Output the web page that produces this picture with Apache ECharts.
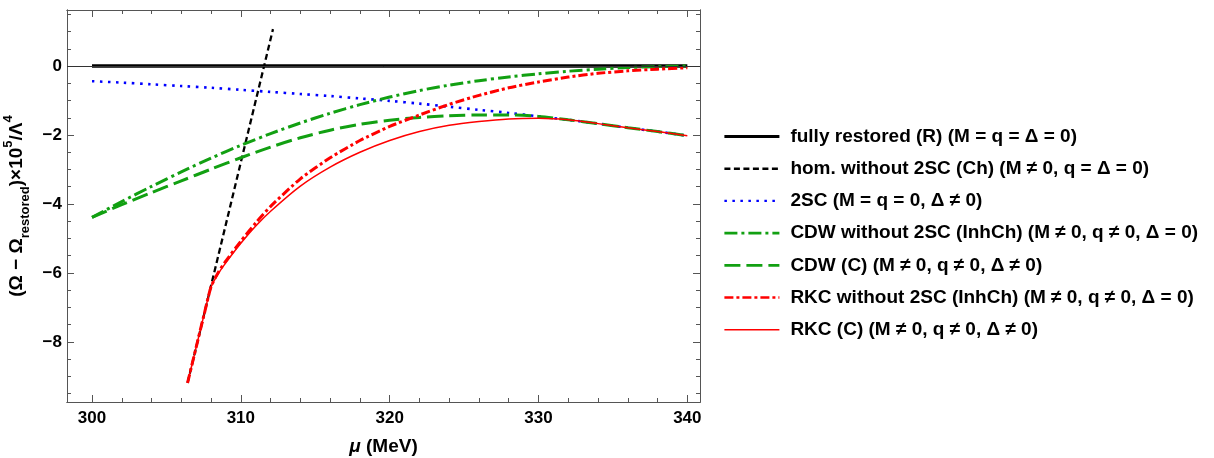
<!DOCTYPE html>
<html>
<head>
<meta charset="utf-8">
<script src="https://cdn.jsdelivr.net/npm/echarts@6/dist/echarts.min.js"></script>
<style>
  html, body { margin: 0; padding: 0; background: #fff; }
</style>
</head>
<body>
<div id="chart" style="width: 1214px;height:458px;"></div>

<script>
// mu grids (MeV)
var muGrid = [300, 302, 304, 306, 308, 310, 312, 314, 316, 318, 320,
              322, 324, 326, 328, 330, 332, 334, 336, 338, 340];
var muRed = [306.42, 307, 307.5, 308, 308.5, 309, 310, 311, 312, 314, 316, 318, 320,
             322, 324, 326, 328, 330, 332, 334, 336, 338, 340];
var muHom = [306.42, 312.16];
var muRestored = [300, 340];

// (Omega - Omega_restored) x 10^5 / Lambda^4
var restoredVals = [0, 0];
var homVals = [-9.19, 1.07];
var twoSCVals = [-0.44, -0.48, -0.53, -0.58, -0.63, -0.69, -0.75, -0.81, -0.87, -0.94, -1.01,
                 -1.09, -1.18, -1.27, -1.36, -1.46, -1.56, -1.67, -1.79, -1.90, -2.02];
var cdwNo2SCVals = [-4.39, -3.93, -3.49, -3.07, -2.67, -2.30, -1.96, -1.65, -1.37, -1.12, -0.90,
                    -0.71, -0.555, -0.425, -0.315, -0.225, -0.15, -0.09, -0.045, -0.015, 0];
var cdwVals = [-4.39, -4.02, -3.67, -3.33, -2.99, -2.66, -2.35, -2.08, -1.86, -1.69, -1.57,
               -1.49, -1.44, -1.42, -1.42, -1.46, -1.56, -1.67, -1.79, -1.90, -2.02];
var rkcNo2SCVals = [-9.19, -8.15, -7.26, -6.40, -5.97, -5.65, -5.08, -4.55, -4.07, -3.27, -2.66, -2.16, -1.75,
                    -1.42, -1.11, -0.85, -0.63, -0.46, -0.32, -0.21, -0.14, -0.09, -0.05];
var rkcVals = [-9.19, -8.15, -7.26, -6.40, -6.01, -5.70, -5.14, -4.64, -4.21, -3.48, -2.93, -2.50, -2.16,
               -1.90, -1.72, -1.61, -1.535, -1.515, -1.56, -1.67, -1.79, -1.90, -2.02];

var names = [
  'fully restored (R) (M = q = Δ = 0)',
  'hom. without 2SC (Ch) (M ≠ 0, q = Δ = 0)',
  '2SC (M = q = 0, Δ ≠ 0)',
  'CDW without 2SC (InhCh) (M ≠ 0, q ≠ 0, Δ = 0)',
  'CDW (C) (M ≠ 0, q ≠ 0, Δ ≠ 0)',
  'RKC without 2SC (InhCh) (M ≠ 0, q ≠ 0, Δ = 0)',
  'RKC (C) (M ≠ 0, q ≠ 0, Δ ≠ 0)'
];

var xMajor = [300, 310, 320, 330, 340];
var xMinor = [300, 302, 304, 306, 308, 310, 312, 314, 316, 318, 320, 322, 324, 326, 328, 330, 332, 334, 336, 338, 340];
var yMajor = [-8, -6, -4, -2, 0];
var yMinor = [-9.5, -9, -8.5, -8, -7.5, -7, -6.5, -6, -5.5, -5, -4.5, -4, -3.5, -3, -2.5, -2, -1.5, -1, -0.5, 0, 0.5, 1, 1.5];

var GREEN = '#12a012';
var FRAME = '#555';
var FONT = 'Liberation Sans';

// line widths and dash patterns, per series (same order as names)
var widths = [3.4, 2.3, 2.6, 3, 3, 3, 1.5];
var legendWidths = [2.8, 2.4, 2.4, 2.6, 2.8, 2.6, 1.4];
var dashes = ['solid', [6, 3.5], [2.5, 5.5], [13, 4, 3, 4], [16, 6], [9, 3, 3, 3], 'solid'];
var colors = ['#000', '#000', '#0000ff', GREEN, GREEN, '#ff0000', '#ff0000'];

function pairs(xs, ys) {
  return xs.map(function (x, i) { return [x, ys[i]]; });
}

function minusFmt(v) {
  return v < 0 ? '\u2212' + (-v) : String(v);
}

function makeAxis(kind, pos, ticks, len, labels, extra) {
  var ax = {
    type: 'value',
    position: pos,
    min: kind === 'x' ? 298.32 : -9.742,
    max: kind === 'x' ? 340.85 : 1.625,
    splitLine: { show: false },
    axisLine: { show: true, onZero: false, lineStyle: { color: FRAME, width: 1 } },
    axisTick: { show: true, inside: true, length: len, customValues: ticks,
                lineStyle: { color: FRAME, width: 1 } },
    axisLabel: { show: labels, customValues: labels ? ticks : undefined,
                 formatter: minusFmt, color: '#000', fontFamily: FONT,
                 fontWeight: 'bold', fontSize: 17, margin: kind === 'x' ? 8 : 5 }
  };
  for (var k in extra) ax[k] = extra[k];
  return ax;
}

var chart = echarts.init(document.getElementById('chart'));

var xName = {
  name: '{i|μ}{b| (MeV)}',
  nameLocation: 'middle',
  nameGap: 35,
  nameTextStyle: {
    rich: {
      i: { fontFamily: FONT, fontWeight: 'bold', fontStyle: 'italic', fontSize: 19, color: '#000' },
      b: { fontFamily: FONT, fontWeight: 'bold', fontSize: 19, color: '#000' }
    }
  }
};

var yName = {
  name: '{a|(Ω − Ω}{sub|restored}{a|)×10}{sup|5}{a|/Λ}{sup|4}',
  nameLocation: 'middle',
  nameRotate: 90,
  nameGap: 32,
  nameTextStyle: {
    rich: {
      a: { fontFamily: FONT, fontWeight: 'bold', fontSize: 19, lineHeight: 30, verticalAlign: 'middle', color: '#000' },
      sup: { fontFamily: FONT, fontWeight: 'bold', fontSize: 13, lineHeight: 16, verticalAlign: 'top', color: '#000' },
      sub: { fontFamily: FONT, fontWeight: 'bold', fontSize: 13, lineHeight: 16, verticalAlign: 'bottom', color: '#000' }
    }
  }
};

var seriesVals = [
  pairs(muRestored, restoredVals),
  pairs(muHom, homVals),
  pairs(muGrid, twoSCVals),
  pairs(muGrid, cdwNo2SCVals),
  pairs(muGrid, cdwVals),
  pairs(muRed, rkcNo2SCVals),
  pairs(muRed, rkcVals)
];

var series = names.map(function (n, i) {
  var s = {
    name: n, type: 'line', symbol: 'none', data: seriesVals[i],
    smooth: i < 2 ? false : (i < 5 ? 0.3 : 0.2),
    lineStyle: { color: colors[i], width: widths[i], type: dashes[i] },
    itemStyle: { color: colors[i] }
  };
  if (i === 0) {
    s.markLine = {
      silent: true, symbol: 'none', label: { show: false },
      lineStyle: { color: '#333', width: 1, type: 'solid' },
      data: [{ yAxis: 0 }]
    };
  }
  return s;
});

chart.setOption({
  animation: false,
  backgroundColor: '#fff',
  grid: { left: 67, right: 514, top: 10, bottom: 56, outerBoundsMode: 'none', containLabel: false },
  legend: {
    orient: 'vertical',
    left: 723,
    top: 127,
    padding: 0,
    itemWidth: 55,
    itemHeight: 14,
    itemGap: 13.2,
    data: names.map(function (n, i) {
      return { name: n, lineStyle: { width: legendWidths[i] } };
    }),
    itemStyle: { opacity: 0 },
    textStyle: { fontFamily: FONT, fontWeight: 'bold', fontSize: 19, color: '#000', padding: [0, 0, 0, 6] }
  },
  xAxis: [
    makeAxis('x', 'bottom', xMajor, 7, true, xName),
    makeAxis('x', 'top', xMajor, 7, false, {}),
    makeAxis('x', 'bottom', xMinor, 4, false, {}),
    makeAxis('x', 'top', xMinor, 4, false, {})
  ],
  yAxis: [
    makeAxis('y', 'left', yMajor, 7, true, yName),
    makeAxis('y', 'right', yMajor, 7, false, {}),
    makeAxis('y', 'left', yMinor, 4, false, {}),
    makeAxis('y', 'right', yMinor, 4, false, {})
  ],
  series: series
});
</script>
</body>
</html>
